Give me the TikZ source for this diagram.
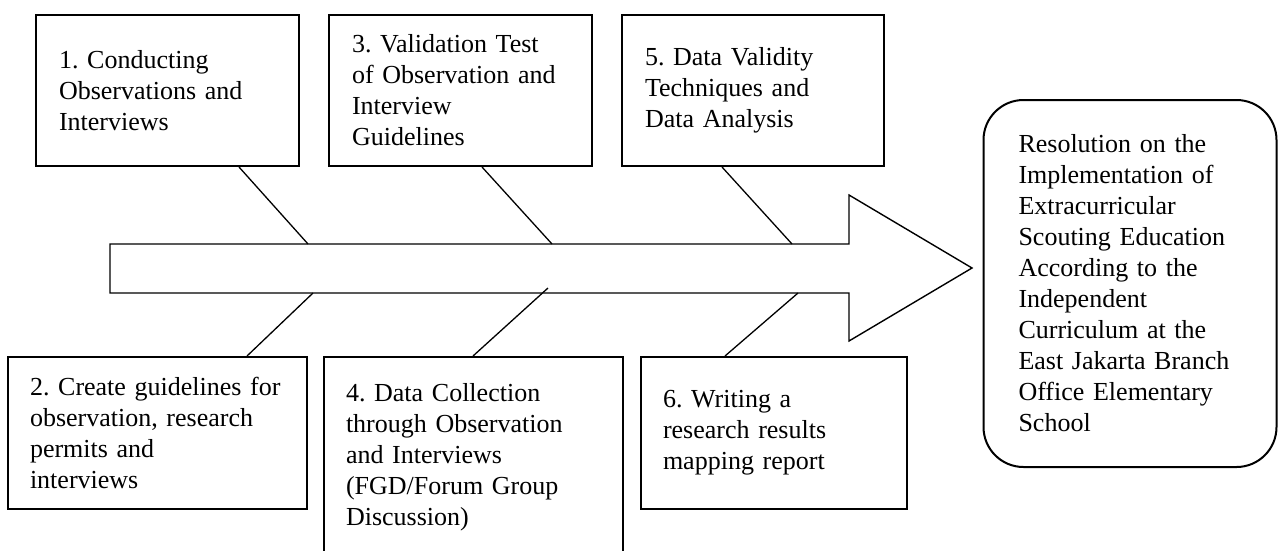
\documentclass[tikz,border=0pt]{standalone}
\usepackage{fontspec}
\setmainfont{Liberation Serif}
\begin{document}
\frenchspacing
\begin{tikzpicture}[x=1pt,y=-1pt]
\tikzset{
  stepbox/.style={draw, line width=2pt, rectangle, align=left, inner xsep=0pt, inner ysep=0pt,
    font=\fontsize{26}{31}\selectfont\frenchspacing},
  goalbox/.style={stepbox, rounded corners=40pt},
  link/.style={line width=1.3pt},
  arrowline/.style={line width=1.4pt, line join=miter},
}
\useasboundingbox (0,0) rectangle (1279,550);
\clip (0,0) rectangle (1279,550);

% top boxes
\node[stepbox, minimum width=263pt, minimum height=151pt, text width=217pt] (b1) at (167.5,90.5)
  {1. Conducting\\Observations and\\Interviews};
\node[stepbox, minimum width=263pt, minimum height=151pt, text width=217pt] (b3) at (460.5,90.5)
  {3. Validation Test\\of Observation and\\Interview\\Guidelines};
\node[stepbox, minimum width=262pt, minimum height=151pt, text width=216pt] (b5) at (753,90.5)
  {5. Data Validity\\Techniques and\\Data Analysis};

% bottom boxes
\node[stepbox, minimum width=299pt, minimum height=152pt, text width=255pt] (b2) at (157.5,433)
  {2. Create guidelines for\\observation, research\\permits and\\interviews};
\node[stepbox, minimum width=299pt, minimum height=201pt, text width=255pt] (b4) at (473.5,457.5)
  {4. Data Collection\\through Observation\\and Interviews\\(FGD/Forum Group\\Discussion)};
\node[stepbox, minimum width=266pt, minimum height=152pt, text width=222pt] (b6) at (774,433)
  {6. Writing a\\research results\\mapping report};

% result box
\node[goalbox, minimum width=293pt, minimum height=367pt, text width=223pt] (res) at (1130,283.5)
  {Resolution on the\\Implementation of\\Extracurricular\\Scouting Education\\According to the\\Independent\\Curriculum at the\\East Jakarta Branch\\Office Elementary\\School};

% big arrow
\draw[arrowline] (110,244) -- (849,244) -- (849,195) -- (972,268) -- (849,341)
  -- (849,293) -- (110,293) -- cycle;

% attachment points on the arrow
\coordinate (a1) at (308,244);
\coordinate (a3) at (552,244);
\coordinate (a5) at (792,244);
\coordinate (a2) at (313,293);
\coordinate (a4) at (548,288);
\coordinate (a6) at (798,293);

% connectors
\draw[link] (b1.south west) ++(204,0) -- (a1);
\draw[link] (b3.south west) ++(154,0) -- (a3);
\draw[link] (b5.south west) ++(101,0) -- (a5);
\draw[link] (b2.north west) ++(240,0) -- (a2);
\draw[link] (b4.north west) ++(150,0) -- (a4);
\draw[link] (b6.north west) ++(85,0) -- (a6);
\end{tikzpicture}
\end{document}
